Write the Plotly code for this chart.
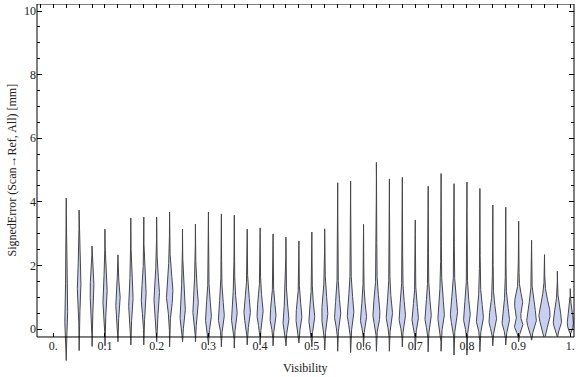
import numpy as np
import plotly.graph_objects as go

# ---------------- data ----------------
VIS = [0.025, 0.05, 0.075, 0.1, 0.125, 0.15, 0.175, 0.2, 0.225, 0.25,
       0.275, 0.3, 0.325, 0.35, 0.375, 0.4, 0.425, 0.45, 0.475, 0.5,
       0.525, 0.55, 0.575, 0.6, 0.625, 0.65, 0.675, 0.7, 0.725, 0.75,
       0.775, 0.8, 0.825, 0.85, 0.875, 0.9, 0.925, 0.95, 0.975, 1.0]
LO = [-0.99, -0.68, -0.55, -0.53, -0.40, -0.50, -0.50, -0.40, -0.56, -0.40,
      -0.40, -0.50, -0.56, -0.60, -0.50, -0.50, -0.53, -0.53, -0.44, -0.56,
      -0.66, -0.70, -0.74, -0.56, -0.70, -0.70, -0.56, -0.66, -0.72, -0.70,
      -0.82, -0.82, -0.71, -0.53, -0.50, -0.40, -0.35, -0.24, -0.24, -0.14]
HI = [4.12, 3.74, 2.61, 3.14, 2.33, 3.49, 3.52, 3.52, 3.68, 3.14,
      3.30, 3.68, 3.62, 3.58, 3.14, 3.18, 2.99, 2.89, 2.77, 3.05,
      3.15, 4.60, 4.65, 3.29, 5.24, 4.72, 4.77, 3.43, 4.49, 4.89,
      4.57, 4.62, 4.42, 3.90, 3.83, 3.39, 2.79, 2.34, 1.82, 1.27]
MODE = [0.35, 1.30, 1.20, 1.05, 0.90, 0.85, 0.95, 1.05, 1.15, 0.50,
        0.70, 0.35, 0.35, 0.40, 0.50, 0.45, 0.35, 0.25, 0.35, 0.30,
        0.40, 0.40, 0.45, 0.30, 0.45, 0.40, 0.35, 0.30, 0.35, 0.40,
        0.45, 0.35, 0.30, 0.25, 0.25, 0.80, 0.25, 0.45, 0.20, 0.15]
PEAK = [0.9, 1.2, 1.4, 1.7, 1.7, 1.7, 1.9, 2.2, 2.7, 2.2,
        2.3, 2.4, 2.4, 2.4, 2.6, 2.5, 2.4, 2.4, 2.4, 2.4,
        2.5, 2.5, 2.7, 2.5, 2.9, 2.6, 2.6, 2.6, 2.6, 2.7,
        3.0, 2.8, 3.0, 3.2, 3.2, 3.5, 4.2, 5.0, 3.5, 2.5]
SLO = [0.30, 0.50, 0.45, 0.40, 0.35, 0.35, 0.40, 0.45, 0.45, 0.30,
       0.35, 0.25, 0.25, 0.25, 0.30, 0.28, 0.25, 0.22, 0.25, 0.22,
       0.28, 0.25, 0.28, 0.22, 0.28, 0.25, 0.25, 0.22, 0.25, 0.25,
       0.28, 0.25, 0.22, 0.22, 0.22, 0.25, 0.22, 0.35, 0.18, 0.15]
SHI = [0.60, 0.55, 0.45, 0.40, 0.40, 0.45, 0.45, 0.50, 0.50, 0.50,
       0.50, 0.45, 0.45, 0.45, 0.45, 0.45, 0.40, 0.40, 0.40, 0.40,
       0.55, 0.45, 0.50, 0.40, 0.50, 0.45, 0.45, 0.40, 0.45, 0.50,
       0.50, 0.45, 0.45, 0.40, 0.40, 0.28, 0.45, 0.40, 0.40, 0.35]
TAIL = [0.6] * 40
# secondary lower mode (bimodal violin at Visibility 0.9)
SECOND_VIS = [0.9]
SECOND_MODE = [0.10]
SECOND_PEAK = [4.0]
SECOND_SIG = [0.16]

X_TICKVALS = [0, 0.1, 0.2, 0.3, 0.4, 0.5, 0.6, 0.7, 0.8, 0.9, 1.0]
X_TICKTEXT = ["0.", "0.1", "0.2", "0.3", "0.4", "0.5", "0.6", "0.7", "0.8", "0.9", "1."]
Y_TICKVALS = [0, 2, 4, 6, 8, 10]
Y_MINOR = [0.5, 1, 1.5, 2.5, 3, 3.5, 4.5, 5, 5.5, 6.5, 7, 7.5, 8.5, 9, 9.5]

# ---------------- layout constants ----------------
XR = [-0.0315, 1.0071]
YR = [-1.10, 10.22]
Y_FRAME_BOTTOM = -0.25
PX = (XR[1] - XR[0]) / 537.0   # x data units per pixel
FONT = "Liberation Serif"
FILL = "rgb(200,207,243)"
EDGE = "rgb(70,70,70)"

fig = go.Figure()
for i, pos in enumerate(VIS):
    ys = np.linspace(LO[i], HI[i], 300)
    m = MODE[i]
    s = np.where(ys < m, SLO[i], SHI[i])
    w = PEAK[i] * np.exp(-0.5 * ((ys - m) / s) ** 2)
    st = np.where(ys < m, (m - LO[i]) / 2.5, (HI[i] - m) / 2.2)
    w = w + TAIL[i] * np.exp(-0.5 * ((ys - m) / st) ** 2)
    for j, sv in enumerate(SECOND_VIS):
        if abs(sv - pos) < 1e-9:
            w = w + SECOND_PEAK[j] * np.exp(-0.5 * ((ys - SECOND_MODE[j]) / SECOND_SIG[j]) ** 2)
    w = w * PX
    xs = np.concatenate([pos + w, (pos - w)[::-1]])
    yy = np.concatenate([ys, ys[::-1]])
    fig.add_trace(go.Scatter(x=xs, y=yy, mode="lines", fill="toself",
                             fillcolor=FILL, line=dict(color=EDGE, width=1.0),
                             hoverinfo="skip", showlegend=False))

# invisible trace for the top tick axis
fig.add_trace(go.Scatter(x=[0, 1], y=[None, None], xaxis="x2", yaxis="y",
                         showlegend=False, hoverinfo="skip"))

pos_free = (Y_FRAME_BOTTOM - YR[0]) / (YR[1] - YR[0])
TXT = dict(family=FONT, size=12, color="#222")

fig.update_layout(
    width=576, height=377,
    margin=dict(l=37, r=2, t=4, b=13, autoexpand=False),
    paper_bgcolor="white", plot_bgcolor="white",
    font=TXT,
    xaxis=dict(range=XR, anchor="free", position=pos_free,
               tickvals=X_TICKVALS, ticktext=X_TICKTEXT,
               ticks="inside", ticklen=4, tickcolor="black", tickwidth=1,
               showgrid=False, zeroline=False, showline=False,
               tickfont=TXT, automargin=False),
    xaxis2=dict(range=XR, overlaying="x", side="top", anchor="y",
                tick0=0, dtick=0.025, ticks="inside", ticklen=4,
                tickcolor="black", tickwidth=1, showticklabels=False,
                showgrid=False, zeroline=False, showline=False,
                automargin=False),
    yaxis=dict(range=YR, tickvals=Y_TICKVALS,
               ticks="inside", ticklen=5, tickcolor="black", tickwidth=1,
               mirror="ticks",
               minor=dict(tickvals=Y_MINOR, ticks="inside", ticklen=3,
                          tickcolor="black", tickwidth=1, showgrid=False),
               showgrid=False, zeroline=False, showline=False,
               tickfont=TXT, automargin=False),
    shapes=[dict(type="rect", xref="paper", x0=0, x1=1, yref="y",
                 y0=Y_FRAME_BOTTOM, y1=YR[1], line=dict(color="black", width=1),
                 fillcolor="rgba(0,0,0,0)", layer="above")],
    annotations=[
        dict(text="Visibility", xref="paper", yref="paper", x=0.5, y=0,
             xanchor="center", yanchor="middle", yshift=-4, showarrow=False, font=TXT),
        dict(text="SignedError (Scan→Ref, All) [mm]", xref="paper", yref="y",
             x=0, xshift=-25, y=(Y_FRAME_BOTTOM + YR[1]) / 2, textangle=-90,
             xanchor="center", yanchor="middle", showarrow=False, font=TXT),
    ],
)

fig.write_html("out.html", config={"displayModeBar": False},
               post_script="document.body.style.margin='0';document.body.style.padding='0';")
